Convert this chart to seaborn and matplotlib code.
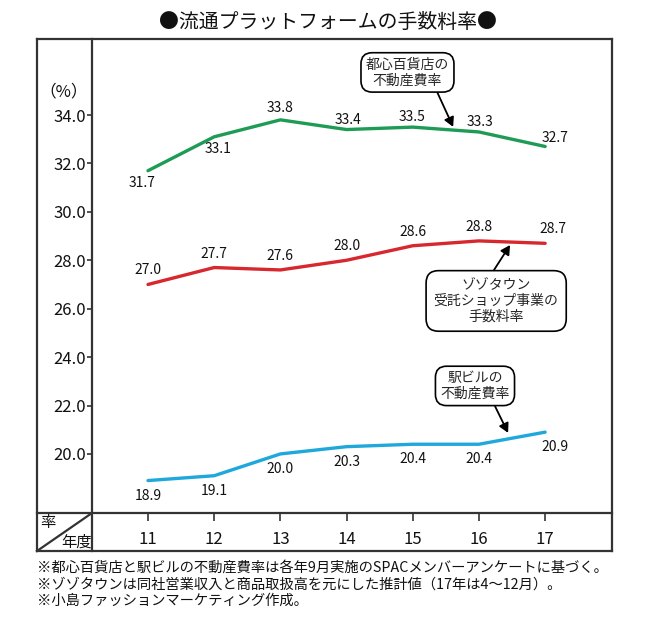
import matplotlib
matplotlib.use("Agg")
import matplotlib.pyplot as plt
from matplotlib.lines import Line2D
import numpy as np
import pandas as pd
import seaborn as sns

# ---------------- data ----------------
years = [11, 12, 13, 14, 15, 16, 17]
dept_store = [31.7, 33.1, 33.8, 33.4, 33.5, 33.3, 32.7]      # 都心百貨店の不動産費率
zozotown = [27.0, 27.7, 27.6, 28.0, 28.6, 28.8, 28.7]        # ゾゾタウン受託ショップ事業の手数料率
station_bldg = [18.9, 19.1, 20.0, 20.3, 20.4, 20.4, 20.9]    # 駅ビルの不動産費率
series_names = ["都心百貨店", "ゾゾタウン", "駅ビル"]
y_ticks = [20.0, 22.0, 24.0, 26.0, 28.0, 30.0, 32.0, 34.0]

title = "●流通プラットフォームの手数料率●"
callouts = ["都心百貨店の\n不動産費率", "ゾゾタウン\n受託ショップ事業の\n手数料率", "駅ビルの\n不動産費率"]
footnotes = [
    "※都心百貨店と駅ビルの不動産費率は各年9月実施のSPACメンバーアンケートに基づく。",
    "※ゾゾタウンは同社営業収入と商品取扱高を元にした推計値（17年は4～12月）。",
    "※小島ファッションマーケティング作成。",
]

# ---------------- style ----------------
sns.set_theme(style="ticks")
plt.rcParams["font.family"] = ["Noto Sans CJK JP", "DejaVu Sans"]
colors = {"都心百貨店": "#1e9b55", "ゾゾタウン": "#d7282f", "駅ビル": "#1ea8dc"}
frame_col = "#333333"

W, H = 650, 618
fig = plt.figure(figsize=(W / 100, H / 100), dpi=100)
fig.patch.set_facecolor("white")


def fx(x):
    return x / W


def fy(y):
    return 1 - y / H


ax = fig.add_axes([fx(92), fy(513), (612 - 92) / W, (513 - 39) / H])
ax.patch.set_alpha(0)

df = pd.DataFrame({
    "年度": years * 3,
    "率": dept_store + zozotown + station_bldg,
    "series": [s for s in series_names for _ in years],
})
sns.lineplot(data=df, x="年度", y="率", hue="series", palette=colors,
             linewidth=2.4, legend=False, ax=ax, sort=False)

ax.set_xlim(10.154, 18.01)
ax.set_ylim(17.56, 37.14)
ax.set_xticks(years)
ax.set_xticklabels([str(y) for y in years])
ax.set_yticks(y_ticks)
ax.set_yticklabels([f"{v:.1f}" for v in y_ticks])
ax.set_xlabel("")
ax.set_ylabel("")
for s in ax.spines.values():
    s.set_visible(False)
ax.tick_params(axis="x", direction="out", length=6, width=1.2, color=frame_col,
               pad=7, labelsize=12, labelcolor="#111111")
ax.tick_params(axis="y", direction="out", length=3.5, width=1.2, color=frame_col,
               pad=1, labelsize=12, labelcolor="#111111")

# ---------------- value labels ----------------
offsets = {
    "都心百貨店": [(-6, -12), (4, -12), (0, 12), (1, 10), (-1, 10), (1, 10), (10, 8)],
    "ゾゾタウン": [(0, 14), (0, 14), (0, 14), (0, 14), (0, 14), (0, 14), (8, 14)],
    "駅ビル": [(0, -15), (0, -15), (0, -15), (0, -15), (0, -15), (0, -15), (10, -15)],
}
series_vals = {"都心百貨店": dept_store, "ゾゾタウン": zozotown, "駅ビル": station_bldg}
for name, vals in series_vals.items():
    for x, v, off in zip(years, vals, offsets[name]):
        ax.annotate(f"{v:.1f}", xy=(x, v), xytext=off, textcoords="offset pixels",
                    ha="center", va="center", fontsize=10, color="#111111")

# ---------------- callouts ----------------
arrow = dict(arrowstyle="-|>,head_length=0.55,head_width=0.3", color="black",
             lw=1.3, shrinkA=0, shrinkB=0)
ax.annotate(callouts[0], xy=(15.61, 33.51), xytext=(14.92, 35.76),
            ha="center", va="center", fontsize=10, linespacing=1.15,
            bbox=dict(boxstyle="round,pad=0.35,rounding_size=0.8", fc="white", ec="black", lw=1.2),
            arrowprops=dict(**arrow, relpos=(0.83, 0.0)))
ax.annotate(callouts[1], xy=(16.47, 28.63), xytext=(16.26, 26.32),
            ha="center", va="center", fontsize=10, linespacing=1.15,
            bbox=dict(boxstyle="round,pad=0.55,rounding_size=0.9", fc="white", ec="black", lw=1.2),
            arrowprops=dict(**arrow, relpos=(0.44, 1.0)))
ax.annotate(callouts[2], xy=(16.44, 20.87), xytext=(15.94, 22.81),
            ha="center", va="center", fontsize=10, linespacing=1.15,
            bbox=dict(boxstyle="round,pad=0.35,rounding_size=0.8", fc="white", ec="black", lw=1.2),
            arrowprops=dict(**arrow, relpos=(0.75, 0.0)))

# ---------------- frame / table ----------------
segments = [((37, 39), (612, 39)), ((612, 39), (612, 551)), ((37, 551), (612, 551)),
            ((37, 39), (37, 551)), ((92, 39), (92, 551)), ((37, 513), (612, 513)),
            ((37, 551), (92, 513))]
for (x0, y0), (x1, y1) in segments:
    fig.add_artist(Line2D([fx(x0), fx(x1)], [fy(y0), fy(y1)], transform=fig.transFigure,
                          color=frame_col, lw=1.6, solid_capstyle="projecting"))

fig.text(fx(64), fy(92), "（%）", ha="center", va="center", fontsize=12, color="#111111")
fig.text(fx(48), fy(523), "率", ha="center", va="center", fontsize=11, color="#111111")
fig.text(fx(77), fy(542), "年度", ha="center", va="center", fontsize=11, color="#111111")

fig.text(fx(328), fy(22), title, ha="center", va="center", fontsize=14.3, color="#111111")
for i, t in enumerate(footnotes):
    fig.text(fx(37), fy(568 + 16.5 * i), t, ha="left", va="center", fontsize=10.3, color="#111111")

fig.savefig("out.png", dpi=100, facecolor="white")
